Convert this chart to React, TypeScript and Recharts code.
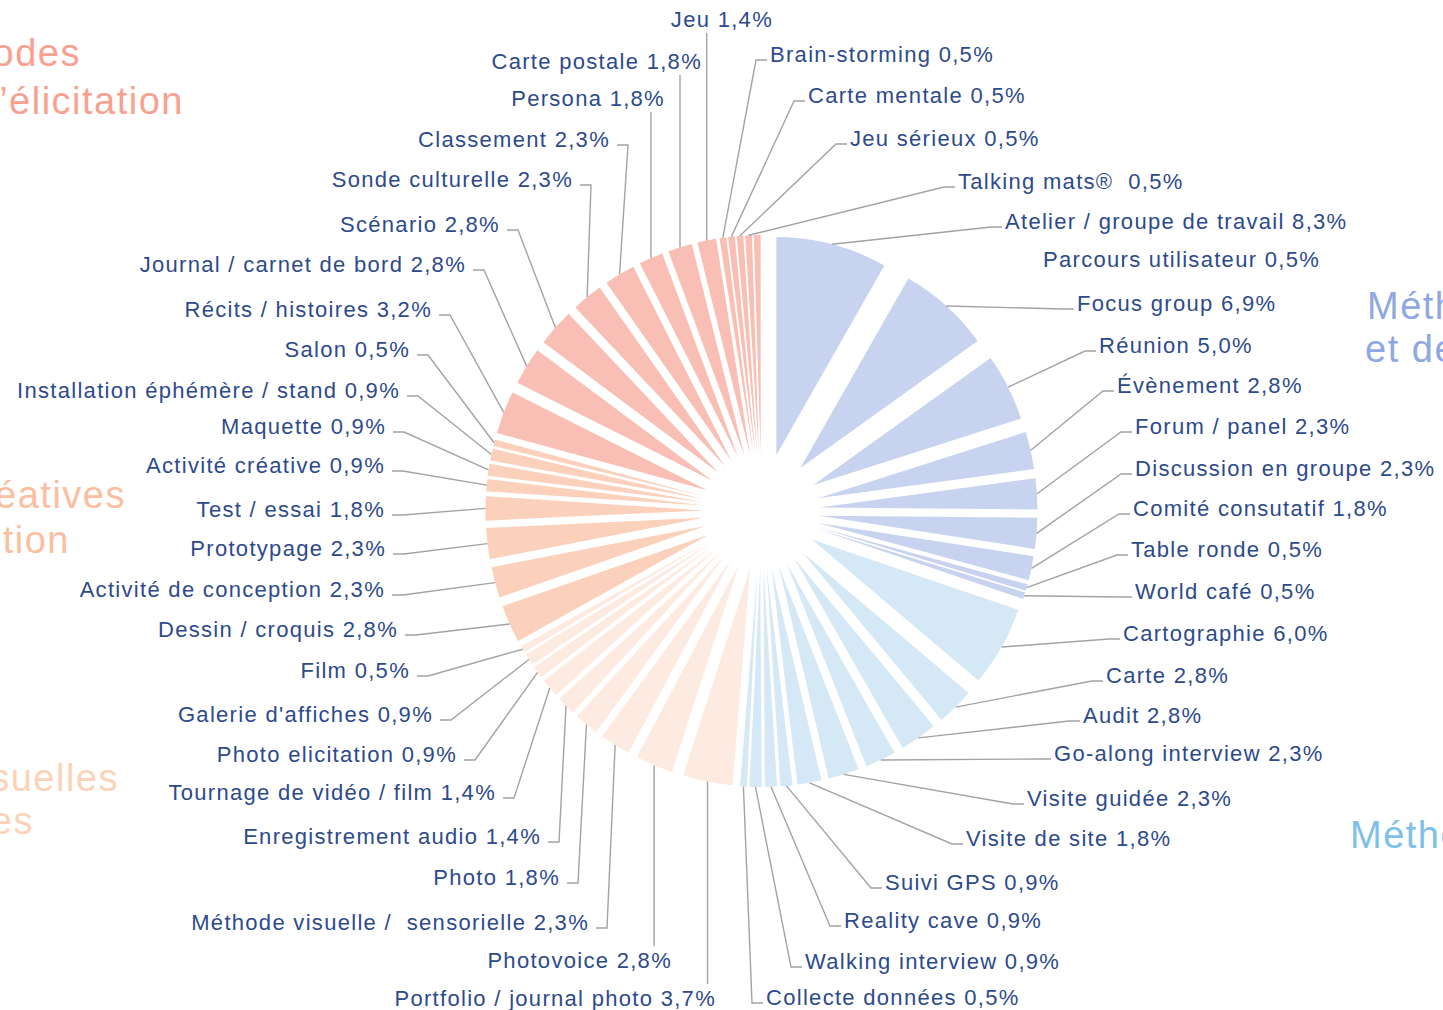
import { PieChart, Pie, Cell, Sector } from "recharts";

// methods, clockwise from 12 o'clock
const methods = [
  "Atelier / groupe de travail", "Focus group", "Réunion", "Évènement",
  "Forum / panel", "Discussion en groupe", "Comité consutatif", "Table ronde", "World café",
  "Cartographie", "Carte", "Audit", "Go-along interview", "Visite guidée", "Visite de site",
  "Suivi GPS", "Reality cave", "Walking interview", "Collecte données",
  "Portfolio / journal photo", "Photovoice", "Méthode visuelle /  sensorielle", "Photo",
  "Enregistrement audio", "Tournage de vidéo / film", "Photo elicitation", "Galerie d'affiches", "Film",
  "Dessin / croquis", "Activité de conception", "Prototypage", "Test / essai", "Activité créative",
  "Maquette", "Installation éphémère / stand", "Salon",
  "Récits / histoires", "Journal / carnet de bord", "Scénario", "Sonde culturelle", "Classement",
  "Persona", "Carte postale", "Jeu", "Brain-storming", "Carte mentale", "Jeu sérieux", "Talking mats® ",
  "Parcours utilisateur",
];

// share of each method (%)
const shares = [
  8.3, 6.9, 5.0, 2.8, 2.3, 2.3, 1.8, 0.5, 0.5,
  6.0, 2.8, 2.8, 2.3, 2.3, 1.8, 0.9, 0.9, 0.9, 0.5,
  3.7, 2.8, 2.3, 1.8, 1.4, 1.4, 0.9, 0.9, 0.5,
  2.8, 2.3, 2.3, 1.8, 0.9, 0.9, 0.9, 0.5,
  3.2, 2.8, 2.8, 2.3, 2.3, 1.8, 1.8, 1.4, 0.5, 0.5, 0.5, 0.5,
  0.5,
];

// slice colour group of each method (index into familyColors)
const families = [
  0, 0, 0, 0, 0, 0, 0, 0, 0,
  1, 1, 1, 1, 1, 1, 1, 1, 1, 1,
  2, 2, 2, 2, 2, 2, 2, 2, 2,
  3, 3, 3, 3, 3, 3, 3, 3,
  4, 4, 4, 4, 4, 4, 4, 4, 4, 4, 4, 4,
  4,
];

const familyColors = ["#C8D3EF", "#D5E8F6", "#FDEBE2", "#FBD1BB", "#F9BEB4"];

const data = methods.map((name, i) => ({ name, value: shares[i], family: families[i] }));

// label placement: text edge x, text centre y, side (R = text starts at x, L = text ends at x)
const labelPos: [number, number, "R" | "L"][] = [
  [1005, 221, "R"], [1077, 303, "R"], [1099, 345, "R"], [1117, 385, "R"],
  [1135, 426, "R"], [1135, 468, "R"], [1133, 508, "R"], [1131, 549, "R"], [1135, 591, "R"],
  [1123, 633, "R"], [1106, 675, "R"], [1083, 715, "R"], [1054, 753, "R"], [1027, 798, "R"],
  [966, 838, "R"], [885, 882, "R"], [844, 920, "R"], [805, 961, "R"], [766, 997, "R"],
  [716, 998, "L"], [672, 960, "L"], [589, 922, "L"], [560, 877, "L"], [541, 836, "L"],
  [496, 792, "L"], [457, 754, "L"], [433, 714, "L"], [410, 670, "L"],
  [398, 629, "L"], [385, 589, "L"], [386, 548, "L"], [385, 509, "L"], [385, 465, "L"],
  [386, 426, "L"], [400, 390, "L"], [410, 349, "L"],
  [432, 309, "L"], [466, 264, "L"], [500, 224, "L"], [573, 179, "L"], [610, 139, "L"],
  [665, 98, "L"], [702, 61, "L"], [773, 19, "L"], [770, 54, "R"], [808, 95, "R"],
  [850, 138, "R"], [958, 181, "R"],
  [1043, 259, "R"],
];
const noLeader = new Set(["Parcours utilisateur"]);

const titles: { text: string; x: number; y: number; anchor: "start" | "end"; color: string }[] = [
  { text: "Méthodes", x: 81, y: 66, anchor: "end", color: "#F9A191" },
  { text: "d’élicitation", x: 184, y: 114, anchor: "end", color: "#F9A191" },
  { text: "Méthodes créatives", x: 126, y: 508, anchor: "end", color: "#FBBE9F" },
  { text: "de conception", x: 70, y: 553, anchor: "end", color: "#FBBE9F" },
  { text: "Méthodes visuelles", x: 119, y: 791, anchor: "end", color: "#FDD3B8" },
  { text: "et sensorielles", x: 34, y: 834, anchor: "end", color: "#FDD3B8" },
  { text: "Méthodes", x: 1367, y: 319, anchor: "start", color: "#8FA8E2" },
  { text: "et de", x: 1365, y: 362, anchor: "start", color: "#8FA8E2" },
  { text: "Méthodes", x: 1350, y: 848, anchor: "start", color: "#7DC0EA" },
];

const RAD = Math.PI / 180;
const EXPLODE = 58;
const FONT = "'Liberation Sans', Arial, sans-serif";
const TEXT = "#2D4A8C";
const LINE = "#A3A3A3";

const fmt = (v: number) => v.toFixed(1).replace(".", ",") + "%";

const renderSlice = (props: any) => {
  const { cx, cy, midAngle, outerRadius, startAngle, endAngle, fill } = props;
  const dx = EXPLODE * Math.cos(-midAngle * RAD);
  const dy = EXPLODE * Math.sin(-midAngle * RAD);
  return (
    <Sector
      cx={cx + dx}
      cy={cy + dy}
      innerRadius={0}
      outerRadius={outerRadius}
      startAngle={startAngle}
      endAngle={endAngle}
      fill={fill}
      stroke="none"
    />
  );
};

const renderLabel = (props: any) => {
  const { cx, cy, midAngle, outerRadius, index } = props;
  const item = data[index];
  const [lx, ly, side] = labelPos[index];
  const r = outerRadius + EXPLODE;
  const ax = cx + r * Math.cos(-midAngle * RAD);
  const ay = cy + r * Math.sin(-midAngle * RAD);

  let pts: number[][] = [];
  if (side === "R") {
    if (ax < lx - 4) pts = [[ax, ay], [lx - 14, ly + 6], [lx - 3, ly + 6]];
    else pts = [[ax, ay], [ax, ay > ly ? ly + 14 : ly - 14]];
  } else {
    if (ax > lx + 4) pts = [[ax, ay], [lx + 18, ly + 6], [lx + 7, ly + 6]];
    else pts = [[ax, ay], [ax, ay > ly ? ly + 14 : ly - 14]];
  }

  return (
    <g>
      {!noLeader.has(item.name) && (
        <polyline
          points={pts.map((p) => p.join(",")).join(" ")}
          fill="none"
          stroke={LINE}
          strokeWidth={1.4}
        />
      )}
      <text
        x={lx}
        y={ly}
        textAnchor={side === "R" ? "start" : "end"}
        dominantBaseline="central"
        fill={TEXT}
        fontSize={22}
        fontFamily={FONT}
        letterSpacing={1.3}
        style={{ whiteSpace: "pre" }}
      >
        {`${item.name} ${fmt(item.value)}`}
      </text>
    </g>
  );
};

export default function App() {
  return (
    <div
      style={{
        position: "absolute",
        left: 0,
        top: 0,
        width: 1443,
        height: 1010,
        overflow: "hidden",
        background: "#fff",
      }}
    >
      <PieChart width={1443} height={1010} margin={{ top: 0, right: 0, bottom: 0, left: 0 }}>
        <Pie
          data={data}
          dataKey="value"
          nameKey="name"
          cx={761.5}
          cy={511}
          innerRadius={0}
          outerRadius={218}
          startAngle={90}
          endAngle={-270}
          stroke="none"
          isAnimationActive={false}
          shape={renderSlice}
          activeShape={renderSlice}
          inactiveShape={renderSlice}
          label={renderLabel}
          labelLine={false}
        >
          {data.map((d, i) => (
            <Cell key={i} fill={familyColors[d.family]} />
          ))}
        </Pie>
      </PieChart>
      <svg
        width={1443}
        height={1010}
        style={{ position: "absolute", left: 0, top: 0, pointerEvents: "none" }}
      >
        {titles.map((t, i) => (
          <text
            key={i}
            x={t.x}
            y={t.y}
            textAnchor={t.anchor}
            fill={t.color}
            fontSize={38}
            fontFamily={FONT}
            letterSpacing={1.5}
          >
            {t.text}
          </text>
        ))}
      </svg>
    </div>
  );
}
